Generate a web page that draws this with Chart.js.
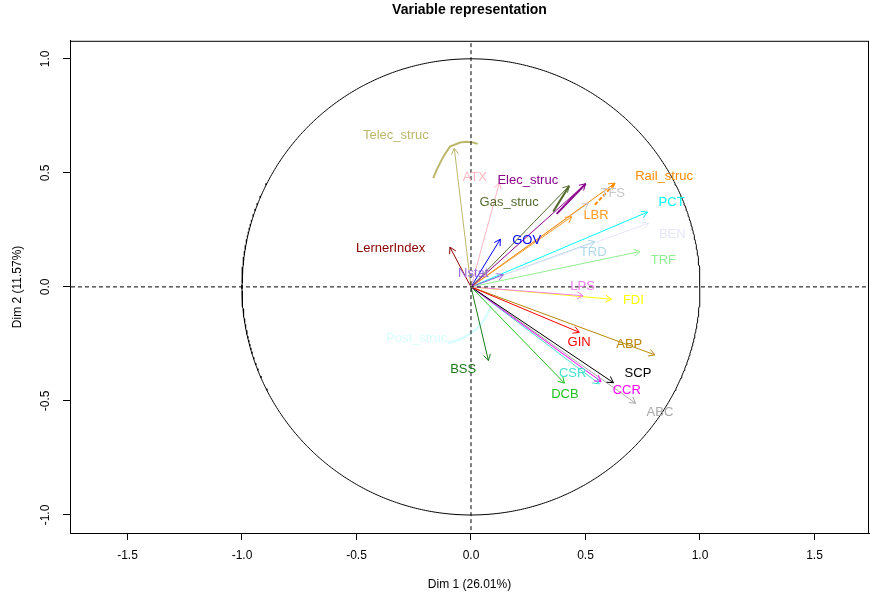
<!DOCTYPE html>
<html>
<head>
<meta charset="utf-8">
<script src="https://cdn.jsdelivr.net/npm/chart.js@4"></script>
<style>
  body { margin: 0; background: #fff; }
  canvas { display: block; }
</style>
</head>
<body>
<canvas id="varChart" width="870" height="601"></canvas>
<script>
// variables and their coordinates on the first two dimensions
const varNames = ['Telec_struc', 'ATX', 'Elec_struc', 'Gas_struc', 'GOV', 'LernerIndex', 'Nstat',
  'Rail_struc', 'TFS', 'LBR', 'PCT', 'BEN', 'TRD', 'TRF', 'LPS', 'FDI', 'GIN', 'ABP',
  'SCP', 'CCR', 'CSR', 'ABC', 'DCB', 'BSS', 'Post_struc'];
const dim1 = [-0.073, 0.124, 0.501, 0.429, 0.128, -0.092, 0.141,
  0.629, 0.512, 0.440, 0.771, 0.776, 0.541, 0.738, 0.490, 0.614, 0.473, 0.803,
  0.622, 0.568, 0.560, 0.719, 0.408, 0.076, null];
const dim2 = [0.608, 0.457, 0.452, 0.443, 0.209, 0.174, 0.053,
  0.455, 0.367, 0.308, 0.328, 0.279, 0.199, 0.155, -0.039, -0.054, -0.199, -0.298,
  -0.420, -0.415, -0.425, -0.510, -0.422, -0.323, null];

// where each name is written
const labelDim1 = [-0.328, 0.017, 0.248, 0.167, 0.243, -0.351, 0.010,
  0.843, 0.619, 0.546, 0.876, 0.879, 0.534, 0.840, 0.487, 0.709, 0.472, 0.691,
  0.729, 0.680, 0.444, 0.825, 0.410, -0.034, -0.237];
const labelDim2 = [0.662, 0.482, 0.466, 0.370, 0.203, 0.167, 0.057,
  0.484, 0.408, 0.314, 0.371, 0.232, 0.152, 0.114, 0.004, -0.060, -0.244, -0.251,
  -0.379, -0.456, -0.379, -0.551, -0.471, -0.364, -0.225];

const varColors = ['#BDB76B', '#FFB6C1', '#8B008B', '#556B2F', '#0000FF', '#8B0000', '#9966DD',
  '#FF8C00', '#C8C8C8', '#FF9A1F', '#00FFFF', '#E6E6FA', '#ADD8E6', '#90EE90', '#EE82EE', '#FFFF00', '#FF0000', '#B8860B',
  '#000000', '#FF00FF', '#40E0D0', '#A9A9A9', '#1FC21F', '#1A7A1A', '#D8FDFD'];

// extra traces drawn over some of the arrows
const telecTrace = [[-0.165, 0.477], [-0.150, 0.513], [-0.121, 0.571], [-0.092, 0.615],
  [-0.048, 0.633], [-0.019, 0.636], [0.010, 0.633], [0.029, 0.627]];
const postTrace = [[-0.100, -0.246], [-0.052, -0.232], [-0.013, -0.211], [0.026, -0.184],
  [0.057, -0.145], [0.079, -0.105], [0.092, -0.079]];
const gasTrace = [[0.359, 0.330], [0.429, 0.443]];
const elecTrace = [[0.374, 0.320], [0.501, 0.452]];
const railTrace = [[0.541, 0.360], [0.629, 0.455]];

const xTicks = [-1.5, -1.0, -0.5, 0.0, 0.5, 1.0, 1.5];
const yTicks = [-1.0, -0.5, 0.0, 0.5, 1.0];

const FONT = "'Liberation Sans', Arial, Helvetica, sans-serif";

function pts(arr) {
  return arr.map(p => ({ x: p[0], y: p[1] }));
}

function lineSet(data, color, width, dash) {
  return {
    data: data,
    showLine: true,
    borderColor: color,
    borderWidth: width,
    borderDash: dash || [],
    pointRadius: 0,
    tension: 0
  };
}

// correlation circle of radius 1
const circle = [];
for (let i = 0; i <= 720; i++) {
  const t = i * Math.PI / 360;
  circle.push({ x: Math.cos(t), y: Math.sin(t) });
}

const datasets = [
  lineSet(circle, '#000', 1),
  lineSet([{ x: -3, y: 0 }, { x: 3, y: 0 }], '#000', 1, [4, 3]),
  lineSet([{ x: 0, y: -3 }, { x: 0, y: 3 }], '#000', 1, [4, 3])
];
varNames.forEach((name, i) => {
  if (dim1[i] === null) return;
  datasets.push(lineSet([{ x: 0, y: 0 }, { x: dim1[i], y: dim2[i] }], varColors[i], 1));
});
datasets.push(lineSet(pts(telecTrace), varColors[0], 2));
datasets.push(lineSet(pts(postTrace), varColors[24], 2.5));
datasets.push(lineSet(pts(gasTrace), varColors[3], 2));
datasets.push(lineSet(pts(elecTrace), varColors[2], 2));
datasets.push(lineSet(pts(railTrace), varColors[7], 2, [4, 2]));

// open arrow heads at the end of each vector
const arrowHeads = {
  id: 'arrowHeads',
  afterDatasetsDraw(chart) {
    const { ctx, scales: { x, y } } = chart;
    const x0 = x.getPixelForValue(0), y0 = y.getPixelForValue(0);
    const len = 7, ang = Math.PI / 6;
    ctx.save();
    ctx.lineWidth = 1;
    varNames.forEach((name, i) => {
      if (dim1[i] === null) return;
      const x1 = x.getPixelForValue(dim1[i]), y1 = y.getPixelForValue(dim2[i]);
      const a = Math.atan2(y1 - y0, x1 - x0);
      ctx.strokeStyle = varColors[i];
      ctx.beginPath();
      ctx.moveTo(x1 - len * Math.cos(a - ang), y1 - len * Math.sin(a - ang));
      ctx.lineTo(x1, y1);
      ctx.lineTo(x1 - len * Math.cos(a + ang), y1 - len * Math.sin(a + ang));
      ctx.stroke();
    });
    ctx.restore();
  }
};

// variable names
const varLabels = {
  id: 'varLabels',
  afterDatasetsDraw(chart) {
    const { ctx, scales: { x, y } } = chart;
    ctx.save();
    ctx.font = '13px ' + FONT;
    ctx.textAlign = 'center';
    ctx.textBaseline = 'middle';
    varNames.forEach((name, i) => {
      ctx.fillStyle = varColors[i];
      ctx.fillText(name, x.getPixelForValue(labelDim1[i]), y.getPixelForValue(labelDim2[i]));
    });
    ctx.restore();
  }
};

// box around the plot region
const frame = {
  id: 'frame',
  afterDraw(chart) {
    const { ctx, chartArea: a } = chart;
    ctx.save();
    ctx.strokeStyle = '#000';
    ctx.lineWidth = 1;
    ctx.strokeRect(a.left + 0.5, a.top + 0.5, a.right - a.left - 1, a.bottom - a.top);
    ctx.restore();
  }
};

new Chart(document.getElementById('varChart'), {
  type: 'scatter',
  data: { datasets: datasets },
  plugins: [arrowHeads, varLabels, frame],
  options: {
    responsive: false,
    animation: false,
    devicePixelRatio: 1,
    layout: { padding: { right: 1 } },
    plugins: {
      legend: { display: false },
      tooltip: { enabled: false },
      title: {
        display: true,
        text: 'Variable representation',
        fullSize: false,
        color: '#000',
        font: { family: FONT, size: 14, weight: 'bold' },
        padding: { top: 2, bottom: 22 }
      }
    },
    scales: {
      x: {
        type: 'linear',
        min: -1.751,
        max: 1.738,
        afterBuildTicks: s => { s.ticks = xTicks.map(v => ({ value: v })); },
        afterFit: s => { s.height = 68; s.paddingLeft = 0; s.paddingRight = 0; },
        ticks: {
          color: '#000',
          font: { family: FONT, size: 12 },
          padding: 8,
          maxRotation: 0,
          callback: v => v.toFixed(1)
        },
        grid: { drawOnChartArea: false, drawTicks: true, tickLength: 7, tickColor: '#000' },
        border: { display: true, color: '#000' },
        title: {
          display: true,
          text: 'Dim 1 (26.01%)',
          color: '#000',
          font: { family: FONT, size: 12 },
          padding: { top: 0, bottom: 9 }
        }
      },
      y: {
        type: 'linear',
        min: -1.079,
        max: 1.079,
        afterBuildTicks: s => { s.ticks = yTicks.map(v => ({ value: v })); },
        afterFit: s => { s.width = 70; s.paddingTop = 0; s.paddingBottom = 0; },
        ticks: {
          color: '#000',
          font: { family: FONT, size: 12 },
          padding: 7,
          minRotation: 90,
          maxRotation: 90,
          crossAlign: 'center',
          callback: v => v.toFixed(1)
        },
        grid: { drawOnChartArea: false, drawTicks: true, tickLength: 7, tickColor: '#000' },
        border: { display: true, color: '#000' },
        title: {
          display: true,
          text: 'Dim 2 (11.57%)',
          color: '#000',
          font: { family: FONT, size: 12 },
          padding: { top: 10, bottom: 0 }
        }
      }
    }
  }
});
</script>
</body>
</html>
